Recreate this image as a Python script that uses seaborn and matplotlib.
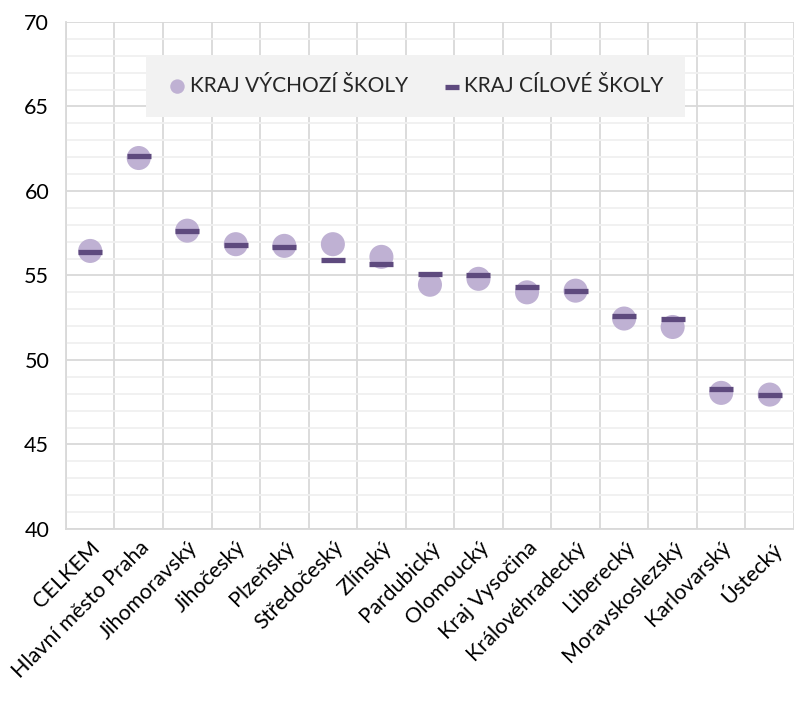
import numpy as np
import matplotlib
matplotlib.use("Agg")
import matplotlib.pyplot as plt
import seaborn as sns
import pandas as pd
from matplotlib.ticker import MultipleLocator, FixedLocator

# data
kraje = ["CELKEM", "Hlavní město Praha", "Jihomoravský", "Jihočeský", "Plzeňský",
         "Středočeský", "Zlínský", "Pardubický", "Olomoucký", "Kraj Vysočina",
         "Královéhradecký", "Liberecký", "Moravskoslezský", "Karlovarský", "Ústecký"]
vychozi = [56.45, 61.95, 57.65, 56.85, 56.75, 56.85, 56.1, 54.45, 54.8, 54.0,
           54.1, 52.45, 51.95, 48.05, 47.95]
cilove = [56.4, 62.05, 57.65, 56.8, 56.7, 55.9, 55.65, 55.1, 55.0, 54.3,
          54.1, 52.6, 52.4, 48.3, 47.95]

df = pd.DataFrame({"kraj": kraje, "vychozi": vychozi, "cilove": cilove})

sns.set_style("white")
plt.rcParams["font.family"] = ["Lato", "DejaVu Sans"]

fig = plt.figure(figsize=(7.94, 7.09), dpi=100)
ax = fig.add_axes([0.083, 0.254, 0.917, 0.715])

sns.scatterplot(data=df, x="kraj", y="vychozi", ax=ax, s=300, color="#BFB1D3",
                edgecolor="none", label="KRAJ VÝCHOZÍ ŠKOLY", zorder=3)
sns.scatterplot(data=df, x="kraj", y="cilove", ax=ax, marker="_", s=300,
                color="#5E4A7E", linewidth=3.8, label="KRAJ CÍLOVÉ ŠKOLY", zorder=4)

ax.set_xlim(-0.5, len(kraje) - 0.5)
ax.set_ylim(40, 70)
ax.yaxis.set_major_locator(MultipleLocator(5))
ax.yaxis.set_minor_locator(MultipleLocator(1))
ax.xaxis.set_minor_locator(FixedLocator(np.arange(-0.5, len(kraje), 1)))
ax.grid(which="major", axis="y", color="#D9D9D9", linewidth=1.3, zorder=0)
ax.grid(which="minor", axis="y", color="#F0F0F0", linewidth=1.3, zorder=0)
ax.grid(which="minor", axis="x", color="#D9D9D9", linewidth=1.3, zorder=0)
ax.set_axisbelow(True)

for side in ["top", "right"]:
    ax.spines[side].set_visible(False)
for side in ["left", "bottom"]:
    ax.spines[side].set_color("#D9D9D9")
    ax.spines[side].set_linewidth(1.3)

ax.set_xlabel("")
ax.set_ylabel("")
ax.tick_params(axis="both", which="both", length=0, labelsize=15.5, colors="black")
ax.tick_params(axis="y", pad=12)
ax.tick_params(axis="x", pad=6)
ax.set_xticks(range(len(kraje)))
ax.set_xticklabels(kraje, rotation=45, ha="right", rotation_mode="anchor", fontsize=15.5)

leg = ax.legend(loc="upper center", bbox_to_anchor=(0.48, 0.955), ncol=2,
                frameon=True, fontsize=15, handletextpad=0.1, columnspacing=1.6,
                borderpad=1.0, markerscale=0.6, handlelength=1.0)
leg.get_frame().set_facecolor("#F2F2F2")
leg.get_frame().set_edgecolor("none")
leg.get_frame().set_alpha(1)
leg.get_frame().set_boxstyle("square", pad=0)

fig.savefig("out.png", dpi=100)
